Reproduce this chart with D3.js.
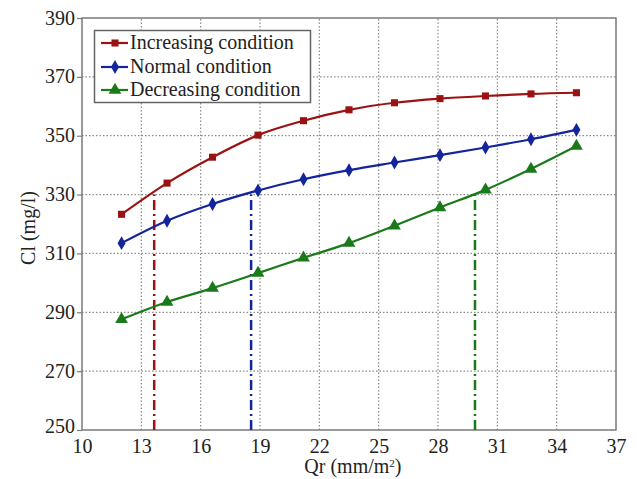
<!DOCTYPE html>
<html>
<head>
<meta charset="utf-8">
<script src="https://cdn.jsdelivr.net/npm/d3@7"></script>
<style>
  html, body { margin: 0; padding: 0; background: #fff; }
  svg { display: block; font-family: "Liberation Serif", "Times New Roman", serif; }
</style>
</head>
<body>
<div id="chart"></div>
<script>
// ---- data ----
const qr = [12, 14.3, 16.6, 18.9, 21.2, 23.5, 25.8, 28.1, 30.4, 32.7, 35];
const increasing = [323.3, 333.9, 342.7, 350.2, 355.1, 358.8, 361.2, 362.6, 363.5, 364.2, 364.6];
const normal     = [313.5, 321.1, 326.8, 331.4, 335.2, 338.3, 340.9, 343.4, 346.0, 348.8, 352.0];
const decreasing = [287.6, 293.5, 298.2, 303.3, 308.5, 313.5, 319.4, 325.6, 331.6, 338.7, 346.5];
const seriesNames = ["Increasing condition", "Normal condition", "Decreasing condition"];
const markerLines = [13.65, 18.55, 29.87]; // vertical dash-dot lines
const markerTop = 330;
const xTicks = [10, 13, 16, 19, 22, 25, 28, 31, 34, 37];
const yTicks = [250, 270, 290, 310, 330, 350, 370, 390];

const colors = ["#9a1212", "#14249a", "#1a7a1a"];
const symbols = [d3.symbolSquare, d3.symbolDiamond, d3.symbolTriangle];
const symSizes = [50, 55, 70];

const W = 637, H = 479;
const m = { left: 82, right: 637 - 616, top: 18, bottom: 479 - 430 };

const svg = d3.select("#chart").append("svg").attr("width", W).attr("height", H);

const x = d3.scaleLinear().domain([10, 37]).range([m.left, W - m.right]);
const y = d3.scaleLinear().domain([250, 390]).range([H - m.bottom, m.top]);

// grid
const grid = svg.append("g");
grid.selectAll("line.vx").data(xTicks.slice(1, -1)).join("line")
  .attr("x1", d => x(d)).attr("x2", d => x(d))
  .attr("y1", y(250)).attr("y2", y(390))
  .attr("stroke", "#8a8a8a").attr("stroke-width", 1.2).attr("stroke-dasharray", "1.5,2");
grid.selectAll("line.hy").data(yTicks.slice(1, -1)).join("line")
  .attr("y1", d => y(d)).attr("y2", d => y(d))
  .attr("x1", x(10)).attr("x2", x(37))
  .attr("stroke", "#8a8a8a").attr("stroke-width", 1.2).attr("stroke-dasharray", "1.5,2");

// frame
svg.append("rect").attr("x", x(10)).attr("y", y(390))
  .attr("width", x(37) - x(10)).attr("height", y(250) - y(390))
  .attr("fill", "none").attr("stroke", "#7a7a7a").attr("stroke-width", 1.5);

// axes
const yAxis = d3.axisLeft(y).tickValues(yTicks).tickSize(5).tickPadding(2);
const gy = svg.append("g").attr("transform", `translate(${x(10)},0)`).call(yAxis);
gy.select(".domain").remove();
gy.selectAll(".tick line").attr("stroke", "#7a7a7a").attr("stroke-width", 1.2);
gy.selectAll(".tick text").attr("font-size", 20).attr("fill", "#222")
  .attr("font-family", "Liberation Serif").attr("dy", "0.3em");
gy.selectAll(".tick").filter(d => d === 250).select("text").attr("dy", "0.1em");

const xAxis = d3.axisBottom(x).tickValues(xTicks).tickSize(0).tickPadding(9);
const gx = svg.append("g").attr("transform", `translate(0,${y(250)})`).call(xAxis);
gx.select(".domain").remove();
gx.selectAll(".tick text").attr("font-size", 20).attr("fill", "#222")
  .attr("font-family", "Liberation Serif");

// axis titles
svg.append("text").attr("x", x(23.7)).attr("y", 473).attr("text-anchor", "middle")
  .attr("font-size", 20).attr("fill", "#222")
  .html('Qr (mm/m<tspan baseline-shift="super" font-size="11">2</tspan>)');
svg.append("text").attr("transform", `translate(35,${(y(250) + y(390)) / 2 + 4}) rotate(-90)`)
  .attr("text-anchor", "middle").attr("font-size", 20).attr("fill", "#222")
  .text("Cl (mg/l)");

// vertical dash-dot lines
svg.selectAll("line.vl").data(markerLines).join("line")
  .attr("x1", d => x(d)).attr("x2", d => x(d))
  .attr("y1", y(250)).attr("y2", y(markerTop))
  .attr("stroke", (d, i) => colors[i]).attr("stroke-width", 2.5)
  .attr("stroke-dasharray", "10,4,2,4");

// series
const all = [increasing, normal, decreasing];
const line = d3.line().x((d, i) => x(qr[i])).y(d => y(d)).curve(d3.curveMonotoneX);
all.forEach((vals, s) => {
  svg.append("path").datum(vals).attr("d", line)
    .attr("fill", "none").attr("stroke", colors[s]).attr("stroke-width", 2.2);
  svg.selectAll(null).data(vals).join("path")
    .attr("d", d3.symbol().type(symbols[s]).size(symSizes[s]))
    .attr("transform", (d, i) => `translate(${x(qr[i])},${y(d)})`)
    .attr("fill", colors[s]);
});

// legend
const lg = svg.append("g");
lg.append("rect").attr("x", 94.5).attr("y", 30.5).attr("width", 216).attr("height", 72)
  .attr("fill", "#fff").attr("stroke", "#666").attr("stroke-width", 1.5);
const rowsY = [43, 67, 90];
seriesNames.forEach((name, s) => {
  const ry = rowsY[s];
  lg.append("line").attr("x1", 101).attr("x2", 128).attr("y1", ry).attr("y2", ry)
    .attr("stroke", colors[s]).attr("stroke-width", 2.2);
  lg.append("path").attr("d", d3.symbol().type(symbols[s]).size(symSizes[s])())
    .attr("transform", `translate(115,${ry})`).attr("fill", colors[s]);
  lg.append("text").attr("x", 130).attr("y", ry + 6).attr("font-size", 20)
    .attr("fill", "#222").text(name);
});
</script>
</body>
</html>
